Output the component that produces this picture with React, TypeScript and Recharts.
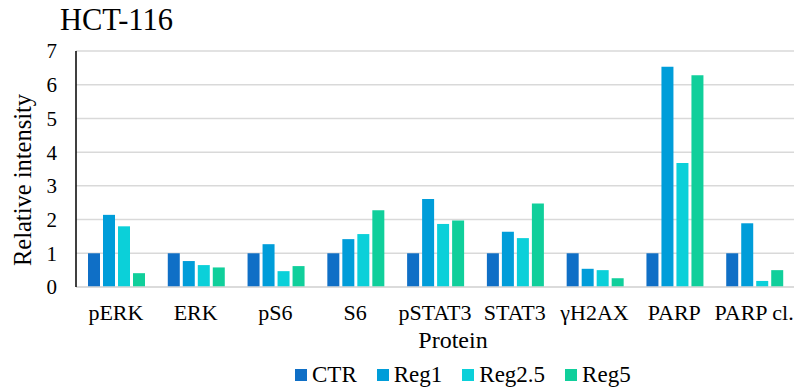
import React from 'react';
import { BarChart, Bar, XAxis, YAxis, CartesianGrid, Legend } from 'recharts';

const proteins = ['pERK', 'ERK', 'pS6', 'S6', 'pSTAT3', 'STAT3', 'γH2AX', 'PARP', 'PARP cl.'];
const ctr = [1, 1, 1, 1, 1, 1, 1, 1, 1];
const reg1 = [2.14, 0.77, 1.27, 1.42, 2.61, 1.64, 0.54, 6.53, 1.89];
const reg25 = [1.8, 0.65, 0.47, 1.57, 1.87, 1.45, 0.5, 3.68, 0.18];
const reg5 = [0.41, 0.58, 0.62, 2.28, 1.97, 2.48, 0.26, 6.28, 0.5];
const yTicks = [0, 1, 2, 3, 4, 5, 6, 7];

const seriesNames = ['CTR', 'Reg1', 'Reg2.5', 'Reg5'];
const seriesColors = ['#0F6FC6', '#009DD9', '#0BD0D9', '#10CF9B'];

const data = proteins.map((p, i) => ({
  protein: p,
  CTR: ctr[i],
  Reg1: reg1[i],
  'Reg2.5': reg25[i],
  Reg5: reg5[i],
}));

const FONT = '"Liberation Serif", "Times New Roman", serif';

const LegendContent = () => (
  <div style={{ display: 'flex', alignItems: 'center', fontFamily: FONT, fontSize: 23, color: '#000' }}>
    {seriesNames.map((n, i) => (
      <div key={n} style={{ display: 'flex', alignItems: 'center', marginRight: 20 }}>
        <span style={{ width: 12, height: 12, background: seriesColors[i], display: 'inline-block', marginRight: 5 }} />
        <span>{n}</span>
      </div>
    ))}
  </div>
);

export default function App() {
  return (
    <div style={{ position: 'absolute', left: 0, top: 0, width: 795, height: 392, background: '#fff' }}>
      <div
        style={{
          position: 'absolute',
          left: 60,
          top: 2,
          fontFamily: FONT,
          fontSize: 30.5,
          lineHeight: '36px',
          color: '#000',
        }}
      >
        HCT-116
      </div>
      <BarChart
        width={795}
        height={392}
        data={data}
        margin={{ top: 51, right: 1, bottom: 0, left: 0 }}
        barCategoryGap={12}
        barGap={3}
      >
        <CartesianGrid vertical={false} stroke="#d9d9d9" strokeWidth={1.5} />
        <XAxis
          dataKey="protein"
          height={105}
          tickLine={false}
          tickSize={0}
          tickMargin={17}
          axisLine={{ stroke: '#d9d9d9', strokeWidth: 1.5 }}
          tick={{ fill: '#000', fontFamily: FONT, fontSize: 22 }}
          interval={0}
          label={{ value: 'Protein', position: 'center', dx: 18, dy: 0, fill: '#000', fontFamily: FONT, fontSize: 24 }}
        />
        <YAxis
          width={76}
          domain={[0, 7]}
          ticks={yTicks}
          tickLine={false}
          tickSize={0}
          tickMargin={19}
          axisLine={{ stroke: '#000', strokeWidth: 1.5 }}
          tick={{ fill: '#000', fontFamily: FONT, fontSize: 21 }}
          label={{
            value: 'Relative intensity',
            angle: -90,
            position: 'center',
            dx: -16,
            dy: 11,
            fill: '#000',
            fontFamily: FONT,
            fontSize: 24.5,
          }}
        />
        <Legend
          layout="horizontal"
          verticalAlign="middle"
          align="center"
          wrapperStyle={{ top: 362, left: 295, width: 420 }}
          content={<LegendContent />}
        />
        {seriesNames.map((n, i) => (
          <Bar key={n} dataKey={n} fill={seriesColors[i]} isAnimationActive={false} />
        ))}
      </BarChart>
    </div>
  );
}
